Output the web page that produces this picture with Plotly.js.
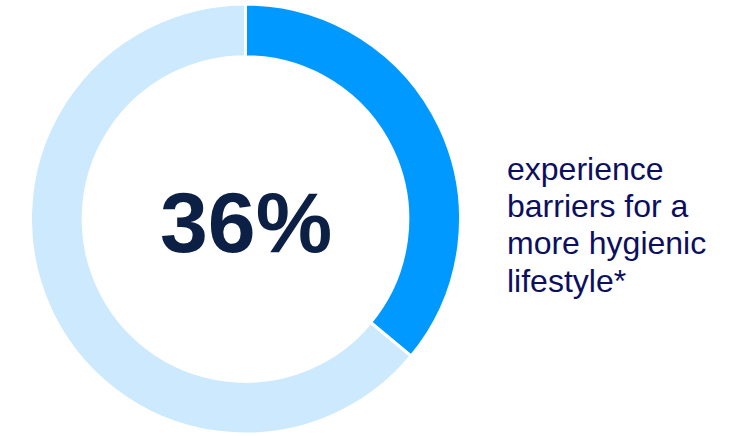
<!DOCTYPE html>
<html>
<head>
<meta charset="utf-8">
<script src="https://cdn.plot.ly/plotly-3.0.1.min.js"></script>
<style>html,body{margin:0;padding:0;background:#fff;}#chart{width:731px;height:436px;}</style>
</head>
<body>
<div id="chart"></div>
<script>
const labels = ["Experience barriers", "Other"];
const values = [36, 64];
const centerLabel = "36%";
const sideLines = ["experience", "barriers for a", "more hygienic", "lifestyle*"];

const W = 731, H = 436;
const cx = 245.5, cy = 219, R = 215;

const trace = {
  type: "pie",
  labels: labels,
  values: values,
  hole: 0.755,
  sort: false,
  direction: "clockwise",
  rotation: 0,
  textinfo: "none",
  hoverinfo: "label+percent",
  marker: {colors: ["#0099ff", "#cce9fd"], line: {color: "#ffffff", width: 3}},
  domain: {x: [(cx - R) / W, (cx + R) / W], y: [(H - cy - R) / H, (H - cy + R) / H]},
  showlegend: false
};

const annotations = [{
  text: "<b>" + centerLabel + "</b>",
  x: cx / W, y: 1 - 222 / H, xref: "paper", yref: "paper",
  xanchor: "center", yanchor: "middle", showarrow: false,
  font: {family: "Liberation Sans, Arial, sans-serif", size: 86, color: "#0b2044"}
}];
const baselines = [179.5, 216.8, 254, 291.5];
sideLines.forEach((t, i) => {
  annotations.push({
    text: t, x: 505 / W, y: 1 - (baselines[i] - 11) / H, xref: "paper", yref: "paper",
    xanchor: "left", yanchor: "middle", showarrow: false,
    font: {family: "Liberation Sans, Arial, sans-serif", size: 32, color: "#0c0f5e"}
  });
});

Plotly.newPlot("chart", [trace], {
  width: W, height: H,
  margin: {l: 0, r: 0, t: 0, b: 0},
  paper_bgcolor: "#ffffff",
  annotations: annotations
}, {staticPlot: true});
</script>
</body>
</html>
